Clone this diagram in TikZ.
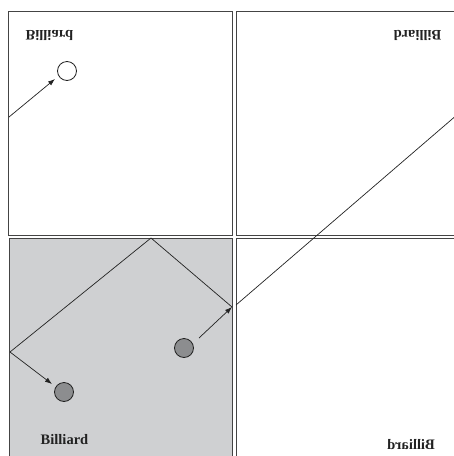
\documentclass[tikz,border=0pt]{standalone}
\usepackage{fontspec}
\setmainfont{Liberation Serif}
\usetikzlibrary{arrows.meta}
\definecolor{tablegray}{HTML}{CFD0D2}
\definecolor{ballgray}{HTML}{8C8D8F}
\definecolor{edgegray}{HTML}{444444}
\definecolor{inkcol}{HTML}{222222}
\tikzset{
  table/.style={draw=edgegray,line width=0.9pt},
  ball/.style={circle,draw=inkcol,line width=0.8pt,minimum size=19pt,inner sep=0pt},
  label/.style={font=\fontsize{14.5}{16}\selectfont\bfseries,text=inkcol,inner sep=0pt,transform shape},
  track/.style={draw=inkcol,line width=0.7pt},
  shot/.style={track,-{Latex[length=7pt,width=5pt]}},
}
\begin{document}
\begin{tikzpicture}[x=1pt,y=-1pt]
\useasboundingbox (0,0) rectangle (454,456);
\begin{scope}
\clip (0,0) rectangle (454,456);
% tables
\draw[table] (8,11) rectangle (232,235);
\draw[table] (236,11) rectangle (462,235);
\draw[table,fill=tablegray] (9,238) rectangle (232,464);
\draw[table] (236,238) rectangle (462,464);
% balls
\node[ball,fill=ballgray] (b1) at (184,348) {};
\node[ball,fill=ballgray] (b2) at (64,392) {};
\node[ball,fill=white] (b3) at (67,71) {};
% path points
\coordinate (s1) at (199,338);
\coordinate (w1) at (232,307);
\coordinate (w2) at (151,238);
\coordinate (w3) at (10,352);
\coordinate (e3) at (52,384);
\coordinate (u1) at (236,305);
\coordinate (u2) at (458,114);
\coordinate (t1) at (9,117);
\coordinate (t2) at (55,79);
\draw[shot] (s1) -- (w1);
\draw[track] (w1) -- (w2) -- (w3);
\draw[shot] (w3) -- (e3);
\draw[track] (u1) -- (u2);
\draw[shot] (t1) -- (t2);
% labels
\node[label] (l1) at (64.5,439.5) {Billiard};
\node[label,yscale=-1] (l2) at (49.5,35) {Billiard};
\node[label,xscale=-1] (l3) at (411,445) {Billiard};
\node[label,rotate=180] (l4) at (417.5,35) {Billiard};
\end{scope}
\end{tikzpicture}
\end{document}
